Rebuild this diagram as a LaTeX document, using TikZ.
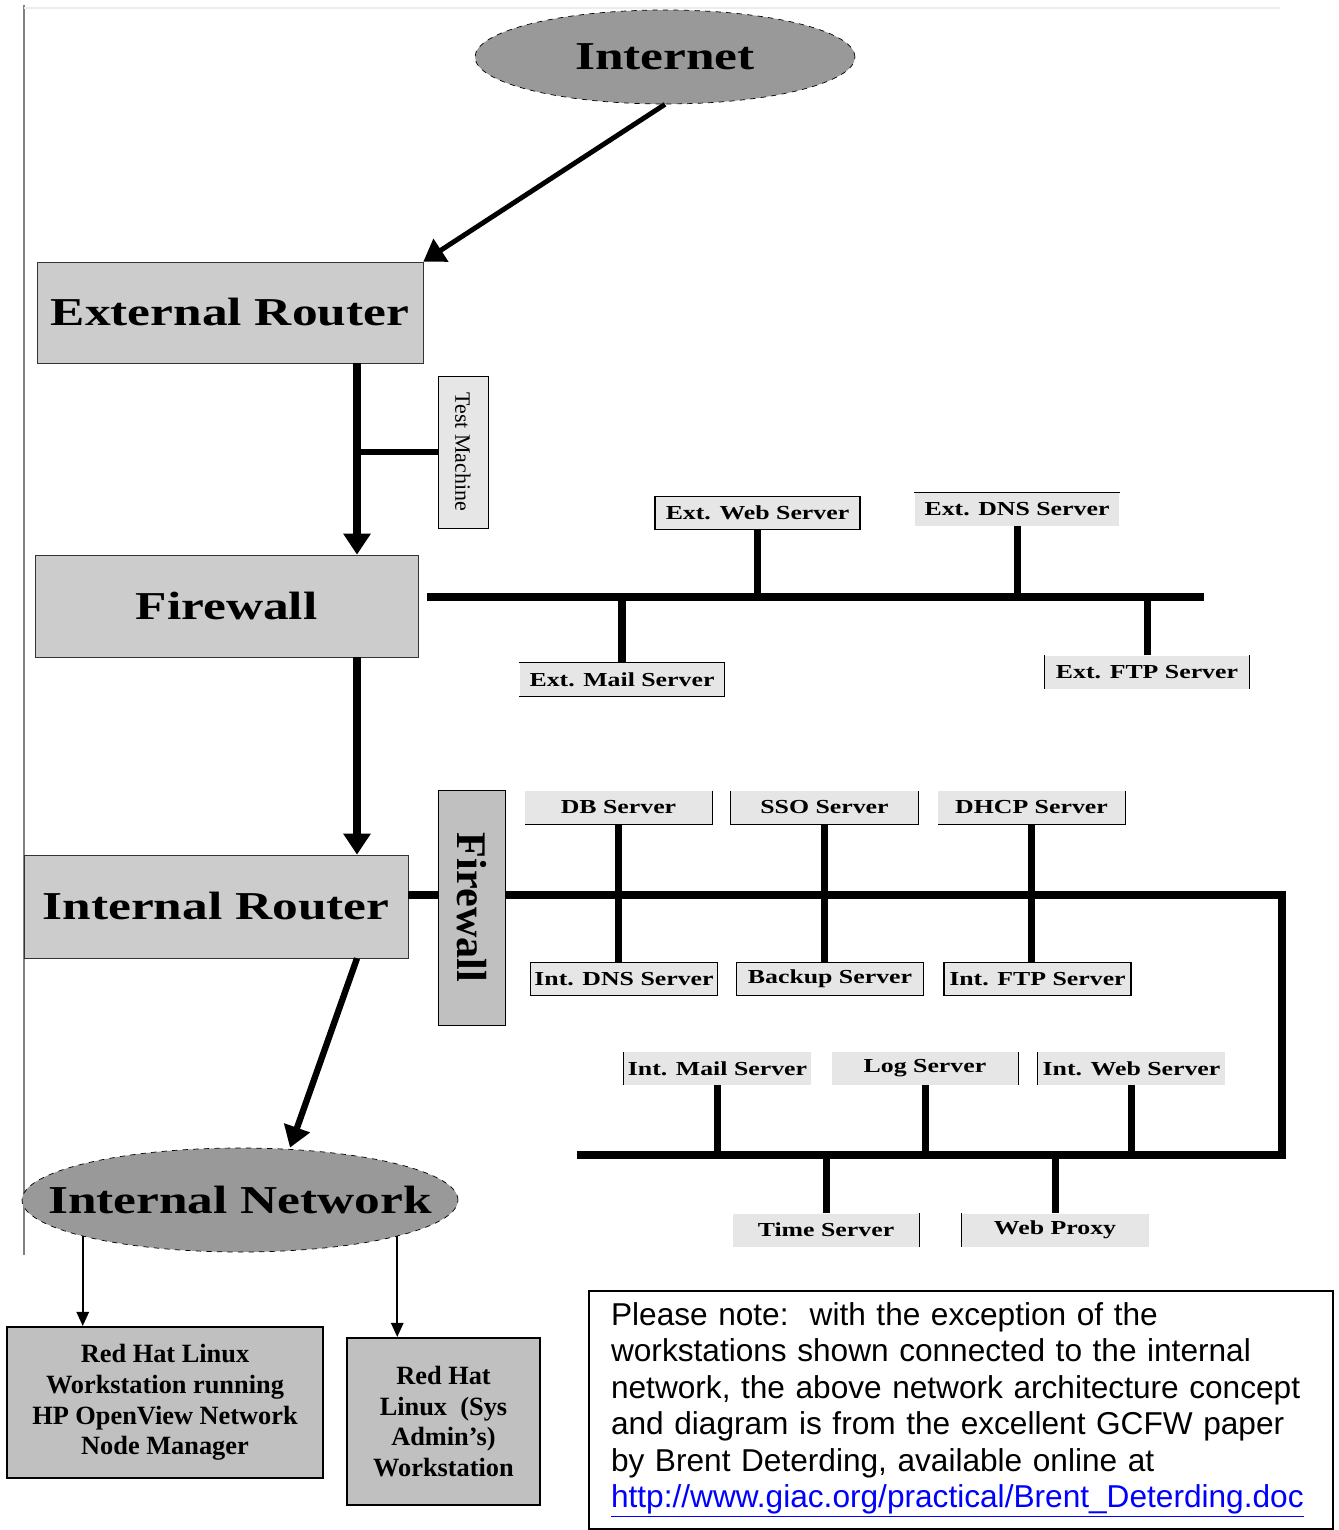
\documentclass[tikz,border=0pt]{standalone}
\usepackage{fontspec}
\setmainfont{Liberation Serif}
\newfontfamily\scanfont[FakeStretch=1.3]{Liberation Serif}
\newfontfamily\notefont{Liberation Sans}
\usepackage{tikz}
\usetikzlibrary{shapes.geometric, arrows.meta, positioning}
\usepackage{xcolor}
\definecolor{cloudgray}{HTML}{999999}
\definecolor{routergray}{HTML}{CCCCCC}
\definecolor{servergray}{HTML}{E6E6E6}
\definecolor{wsgray}{HTML}{C0C0C0}
\definecolor{linkblue}{HTML}{0000FF}
\tikzset{
  cloud/.style={ellipse, draw, dashed, fill=cloudgray, inner sep=0pt,
    font=\scanfont\fontsize{22.5}{26}\selectfont\bfseries},
  router/.style={rectangle, draw=black!80, fill=routergray, inner sep=0pt,
    font=\scanfont\fontsize{22.5}{26}\selectfont\bfseries},
  server/.style={rectangle, fill=servergray, inner sep=0pt, minimum width=3.74cm,
    minimum height=0.66cm, font=\scanfont\fontsize{11.3}{13}\selectfont\bfseries},
  extserver/.style={server, minimum width=4.1cm},
  rim/.style={line width=0.7pt},
  bus/.style={line width=5pt},
  drop/.style={line width=4pt},
  flow/.style={line width=4pt, -{Triangle[length=12pt,width=15pt]}},
  thinflow/.style={line width=1.1pt, -{Triangle[length=8pt,width=7pt]}},
  station/.style={rectangle, draw, line width=1.2pt, fill=wsgray, align=center,
    inner sep=0pt, font=\fontsize{15}{17.4}\selectfont\bfseries},
}

\begin{document}
\begin{tikzpicture}[x=0.02cm, y=-0.02cm]
    \useasboundingbox (0,0) rectangle (1338,1530);
    % frame of the pasted picture
    \draw[gray, line width=0.8pt] (24,5) -- (24,1255);
    \draw[gray!15, line width=0.6pt] (24,8) -- (1280,8);

    % way in from the Internet
    \node[cloud, minimum width=7.6cm, minimum height=1.88cm] (inet) at (665,57) {Internet};
    \node[router, minimum width=7.72cm, minimum height=2.02cm] (er) at (230,312.5) {External Router};
    \node[draw, fill=servergray, rotate=-90, minimum width=3.04cm, minimum height=1cm,
      inner sep=0pt, font=\fontsize{12.5}{14}\selectfont] (tm) at (463,452) {Test Machine};
    \node[router, minimum width=7.66cm, minimum height=2.04cm] (fw) at (226.5,606) {Firewall};
    \node[router, minimum width=7.68cm, minimum height=2.06cm] (ir) at (216,906.5) {Internal Router};
    \node[draw, fill=wsgray, rotate=-90, minimum width=4.7cm, minimum height=1.34cm,
      inner sep=0pt, font=\fontsize{24}{26}\selectfont\bfseries] (fwi) at (471.5,907.5) {Firewall};
    \node[cloud, inner xsep=-0.8cm, minimum width=8.72cm, minimum height=2.08cm] (inw) at (240,1200) {Internal Network};

    \coordinate (trunk) at (357,0);
    \coordinate (netin) at (290,0);

    % arrows down the left side
    \draw[flow, line width=2.8pt] (inet.south) -- (er.north east);
    \draw[flow] (er.south -| trunk) -- (fw.north -| trunk);
    \draw[drop, line width=3.4pt] (trunk |- tm.south) -- (tm.south);
    \draw[flow] (fw.south -| trunk) -- (ir.north -| trunk);
    \draw[flow, line width=3.6pt] (ir.south -| trunk) -- (inw.north -| netin);

    % DMZ segment
    \coordinate (dmzl) at (427,597);
    \coordinate (dmzr) at (1204,597);
    \draw[bus] (dmzl) -- (dmzr);
    \node[extserver, draw=black, rim] (ews) at (757.5,513) {Ext. Web Server};
    \node[extserver] (edns) at (1017,509.5) {Ext. DNS Server};
    \node[extserver] (email) at (622,679.5) {Ext. Mail Server};
    \node[extserver] (eftp) at (1147,672) {Ext. FTP Server};
    \draw[rim] (edns.north west) -- (edns.north east);
    \draw[rim] (email.north west) -- (email.north east) -- (email.south east) -- (email.south west);
    \draw[rim] (eftp.north west) -- (eftp.south west);
    \draw[rim] (eftp.north east) -- (eftp.south east);
    \foreach \s in {ews,edns} \draw[drop] (\s.south) -- (\s.south |- dmzl);
    \foreach \s in {email,eftp} \draw[drop] (\s.north) -- (\s.north |- dmzl);

    % internal segment
    \coordinate (ibus) at (1282,895);
    \coordinate (ibend) at (1282,1155);
    \coordinate (lbus) at (577,1155);
    \draw[bus] (ir.east |- ibus) -- (fwi.south |- ibus);
    \draw[bus] (fwi.north |- ibus) -- (ibus) -- (ibend) -- (lbus);

    \node[server] (db) at (618.5,807.5) {DB Server};
    \node[server] (sso) at (824.5,807.5) {SSO Server};
    \node[server] (dhcp) at (1031.5,807.5) {DHCP Server};
    \node[server, draw=black, rim] (idns) at (624,979) {Int. DNS Server};
    \node[server, draw=black, rim] (bkp) at (830,979) {Backup Server};
    \node[server, draw=black, rim] (iftp) at (1037.5,979) {Int. FTP Server};
    \draw[rim] (db.north east) -- (db.south east) -- (db.south west);
    \draw[rim] (sso.north west) -- (sso.south west) -- (sso.south east) -- (sso.north east);
    \draw[rim] (dhcp.north east) -- (dhcp.south east) -- (dhcp.south west);
    \foreach \a/\b in {db/idns, sso/bkp, dhcp/iftp} \draw[drop] (\a.south) -- (\a.south |- \b.north);

    \node[server] (imail) at (717.5,1068.5) {Int. Mail Server};
    \node[server] (log) at (925,1068.5) {Log Server};
    \node[server] (iweb) at (1131.5,1068.5) {Int. Web Server};
    \node[server] (time) at (826,1230) {Time Server};
    \node[server] (proxy) at (1055,1230) {Web Proxy};
    \foreach \s in {imail,iweb,proxy} \draw[rim] (\s.north west) -- (\s.south west);
    \foreach \s in {log,time} \draw[rim] (\s.north east) -- (\s.south east);
    \foreach \s in {imail,log,iweb} \draw[drop] (\s.south) -- (\s.south |- lbus);
    \foreach \s in {time,proxy} \draw[drop] (\s.north) -- (\s.north |- lbus);

    % workstations on the internal network
    \node[station, minimum width=6.32cm, minimum height=3.02cm] (ws1) at (165,1402.5)
      {Red Hat Linux\\Workstation running\\HP OpenView Network\\Node Manager};
    \node[station, minimum width=3.86cm, minimum height=3.34cm] (ws2) at (443.5,1421.5)
      {Red Hat\\Linux\ \ (Sys\\Admin’s)\\Workstation};
    \draw[thinflow] (inw.193) -- (inw.193 |- ws1.north);
    \draw[thinflow] (inw.347) -- (inw.347 |- ws2.north);

    % note
    \node[draw, line width=1.2pt, anchor=north west, minimum width=14.88cm, minimum height=4.76cm,
      inner xsep=0.44cm, inner ysep=0pt, text width=14cm, align=left,
      font=\notefont\fontsize{18}{20.8}\selectfont] (note) at (588,1290)
      {Please note:\ \ with the exception of the\\
       workstations shown connected to the internal\\
       network, the above network architecture concept\\
       and diagram is from the excellent GCFW paper\\
       by Brent Deterding, available online at\\
       \textcolor{linkblue}{\underline{http://www.giac.org/practical/Brent\_Deterding.doc}}};
\end{tikzpicture}
\end{document}
